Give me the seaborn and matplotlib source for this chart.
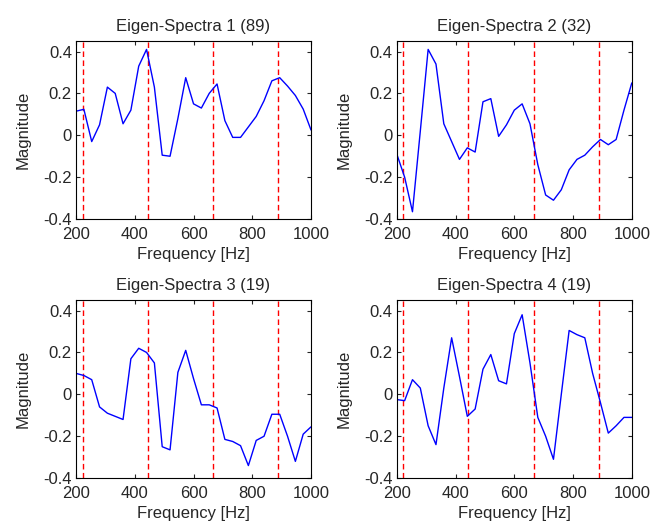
import numpy as np
import pandas as pd
import seaborn as sns
import matplotlib.pyplot as plt

# 31 samples from 200 to 1000 Hz
freqs = np.linspace(200, 1000, 31)

spectra_1 = [0.115, 0.124, -0.03, 0.05, 0.23, 0.20, 0.055, 0.12, 0.33, 0.41,
             0.23, -0.095, -0.10, 0.08, 0.275, 0.15, 0.13, 0.20, 0.245, 0.07,
             -0.01, -0.01, 0.04, 0.09, 0.165, 0.26, 0.275, 0.235, 0.19, 0.125, 0.025]
spectra_2 = [-0.09, -0.20, -0.365, 0.02, 0.41, 0.34, 0.055, -0.03, -0.115, -0.06,
             -0.08, 0.16, 0.175, -0.005, 0.05, 0.12, 0.15, 0.055, -0.14, -0.285,
             -0.31, -0.26, -0.165, -0.115, -0.095, -0.055, -0.02, -0.045, -0.02, 0.12, 0.25]
spectra_3 = [0.10, 0.09, 0.07, -0.06, -0.09, -0.105, -0.12, 0.17, 0.22, 0.20,
             0.15, -0.25, -0.265, 0.105, 0.21, 0.075, -0.05, -0.05, -0.065, -0.215,
             -0.225, -0.245, -0.34, -0.22, -0.20, -0.095, -0.095, -0.20, -0.32, -0.19, -0.155]
spectra_4 = [-0.025, -0.03, 0.07, 0.03, -0.15, -0.24, 0.03, 0.27, 0.085, -0.105,
             -0.07, 0.12, 0.19, 0.065, 0.05, 0.29, 0.38, 0.15, -0.11, -0.20,
             -0.31, 0.0, 0.305, 0.285, 0.27, 0.10, -0.04, -0.185, -0.15, -0.11, -0.11]

titles = ["Eigen-Spectra 1 (89)", "Eigen-Spectra 2 (32)",
          "Eigen-Spectra 3 (19)", "Eigen-Spectra 4 (19)"]
harmonics = [222, 444, 666, 888]  # red dashed markers
yticks = [-0.4, -0.2, 0, 0.2, 0.4]
ytick_labels = ["-0.4", "-0.2", "0", "0.2", "0.4"]
xticks = [200, 400, 600, 800, 1000]

sns.set_style("ticks", {"xtick.direction": "in", "ytick.direction": "in"})
plt.rcParams['font.family'] = ['Liberation Sans', 'DejaVu Sans']
fs = 12

fig, axes = plt.subplots(2, 2, figsize=(6.5, 5.26), dpi=100)
plt.subplots_adjust(left=0.117, right=0.972, top=0.922, bottom=0.091,
                    wspace=0.365, hspace=0.455)

all_spectra = [spectra_1, spectra_2, spectra_3, spectra_4]
for ax, vals, title in zip(axes.flat, all_spectra, titles):
    df = pd.DataFrame({"freq": freqs, "mag": vals})
    for h in harmonics:
        ax.axvline(h, color="red", linestyle=(0, (4, 2.5)), linewidth=1)
    sns.lineplot(data=df, x="freq", y="mag", ax=ax, color="blue", linewidth=1)
    ax.set_xlim(200, 1000)
    ax.set_ylim(-0.4, 0.45)
    ax.set_xticks(xticks)
    ax.set_yticks(yticks)
    ax.set_yticklabels(ytick_labels)
    ax.tick_params(top=True, right=True, length=3, width=0.8, labelsize=fs)
    ax.tick_params(axis="x", pad=6)
    ax.tick_params(axis="y", pad=3)
    for s in ax.spines.values():
        s.set_linewidth(0.8)
        s.set_color("black")
    ax.set_title(title, fontsize=fs, pad=7)
    ax.set_xlabel("Frequency [Hz]", fontsize=fs, labelpad=3)
    ax.set_ylabel("Magnitude", fontsize=fs, labelpad=9)

plt.savefig("out.png", dpi=100)
plt.close()
